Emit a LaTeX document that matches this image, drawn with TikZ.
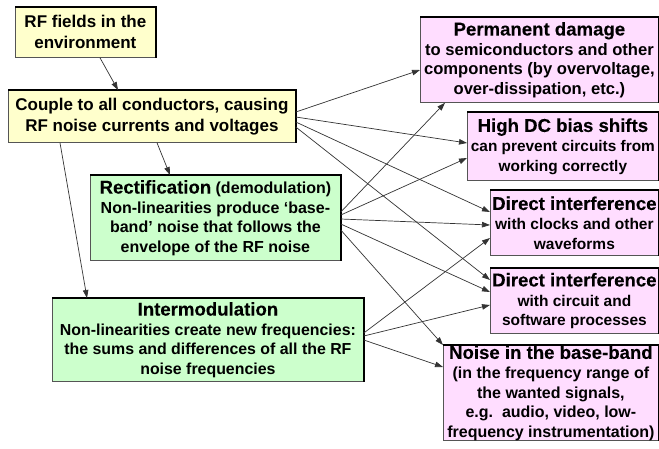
\documentclass[tikz,border=0pt]{standalone}
\usepackage{fontspec}
\setmainfont{Liberation Sans}
\newfontfamily\ttlfont[FakeBold=0.12]{Liberation Sans}
\usetikzlibrary{calc,arrows.meta}
\definecolor{ybox}{HTML}{FFFFCC}
\definecolor{gbox}{HTML}{CCFFCC}
\definecolor{pbox}{HTML}{FFDDFF}
\definecolor{edgegray}{HTML}{555555}
\definecolor{wire}{HTML}{333333}
\newcommand{\ttl}[1]{{\fontsize{18.6}{21}\selectfont\ttlfont #1}}
\newcommand{\bodysize}[1]{\fontsize{#1}{19.6}\selectfont\bfseries}
\tikzset{
  boxbase/.style={draw=edgegray, line width=0.8pt, anchor=north west, inner sep=0pt, align=center,
    font=\bodysize{16}},
  ybx/.style={boxbase, fill=ybox, font=\fontsize{17}{21}\selectfont\bfseries},
  gbx/.style={boxbase, fill=gbox},
  pbx/.style={boxbase, fill=pbox},
  conn/.style={draw=wire, line width=0.7pt, -{Triangle[length=8pt,width=5.5pt]}},
  topedge/.style={line width=2.6pt, black},
}
\begin{document}
\begin{tikzpicture}[x=1pt,y=-1pt]
\useasboundingbox[fill=white] (0,0) rectangle (659,448);
% left boxes
\node[ybx, minimum width=140, minimum height=50] (A) at (15,7) {RF fields in the\\environment};
\node[ybx, minimum width=287, minimum height=52] (B) at (8,90) {Couple to all conductors, causing\\RF noise currents and voltages};
\node[gbx, minimum width=250, minimum height=85, font=\bodysize{16}] (C) at (90,175) {\ttl{Rectification} (demodulation)\\Non-linearities produce ‘base-\\band’ noise that follows the\\envelope of the RF noise};
\node[gbx, minimum width=311, minimum height=83, font=\bodysize{15.9}] (D) at (52,298) {\ttl{Intermodulation}\\Non-linearities create new frequencies:\\the sums and differences of all the RF\\noise frequencies};
% right boxes
\node[pbx, minimum width=238, minimum height=85, font=\bodysize{16.6}] (P) at (420,17) {\ttl{Permanent damage}\\to semiconductors and other\\components (by overvoltage,\\over-dissipation, etc.)};
\node[pbx, minimum width=191, minimum height=68, font=\bodysize{15.4}] (H) at (467,112) {\ttl{High DC bias shifts}\\can prevent circuits from\\working correctly};
\node[pbx, minimum width=168, minimum height=65, font=\bodysize{15.5}] (K) at (490,190) {\ttl{Direct interference}\\with clocks and other\\waveforms};
\node[pbx, minimum width=168, minimum height=65, font=\bodysize{15.5}] (S) at (490,268) {\ttl{Direct interference}\\with circuit and\\software processes};
\node[pbx, minimum width=215, minimum height=95, font=\bodysize{16}] (N) at (443,345) {\ttl{Noise in the base-band}\\(in the frequency range of\\the wanted signals,\\e.g.\ \ audio, video, low-\\frequency instrumentation)};
% shadow edges
\foreach \n in {A,B,C,D,P,H,K,S,N}
  \draw[topedge] (\n.north west) -- (\n.north east) -- (\n.south east);
% vertical flow
\draw[conn] ($(A.south west)+(85,0)$) -- ($(B.north west)+(110,0)$);
\draw[conn] ($(B.south west)+(149,0)$) -- ($(C.north west)+(80,0)$);
\draw[conn] ($(B.south west)+(52,0)$) -- ($(D.north west)+(35,0)$);
% from B
\draw[conn] ($(B.north east)+(0,22)$) -- ($(P.north west)+(0,53)$);
\draw[conn] ($(B.north east)+(0,27)$) -- ($(H.north west)+(0,31)$);
\draw[conn] ($(B.north east)+(0,32)$) -- ($(K.north west)+(0,22)$);
\draw[conn] ($(B.north east)+(0,37)$) -- ($(S.north west)+(0,12)$);
% from C
\draw[conn] ($(C.north east)+(0,37)$) -- ($(P.south west)+(25,0)$);
\draw[conn] ($(C.north east)+(0,40)$) -- ($(H.north west)+(0,46)$);
\draw[conn] ($(C.north east)+(0,44)$) -- ($(K.north west)+(0,35)$);
\draw[conn] ($(C.north east)+(0,49)$) -- ($(S.north west)+(0,24)$);
\draw[conn] ($(C.north east)+(0,55)$) -- (N.north west);
% from D
\draw[conn] ($(D.north east)+(0,35)$) -- ($(K.north west)+(0,48)$);
\draw[conn] ($(D.north east)+(0,38)$) -- ($(S.north west)+(0,37)$);
\draw[conn] ($(D.north east)+(0,42)$) -- ($(N.north west)+(0,22)$);
\end{tikzpicture}
\end{document}
